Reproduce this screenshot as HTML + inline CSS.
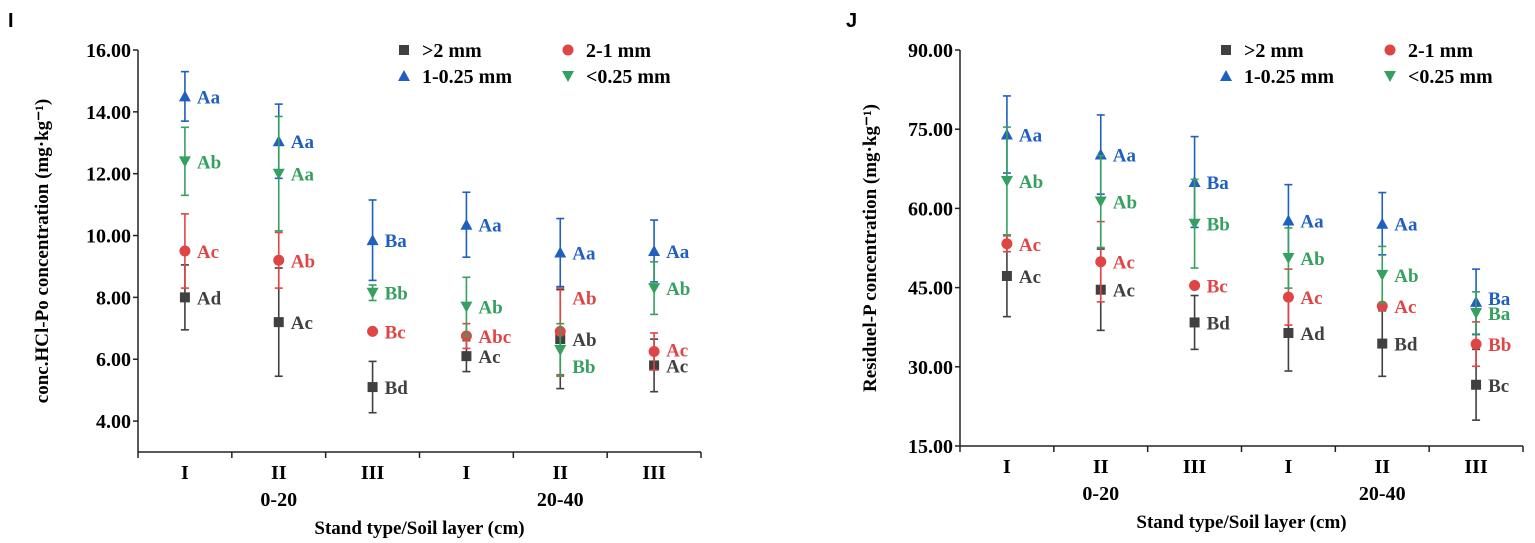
<!DOCTYPE html>
<html><head><meta charset="utf-8"><style>
html,body{margin:0;padding:0;background:#fff;}
svg{display:block;font-family:"Liberation Serif",serif;}
</style></head><body>
<svg id="c" width="1535" height="543"></svg>
<script>
const categories=["I","II","III","I","II","III"];
const groups=["0-20","20-40"];
const seriesNames=[">2 mm","2-1 mm","1-0.25 mm","<0.25 mm"];
// Panel I
const iTicks=["4.00","6.00","8.00","10.00","12.00","14.00","16.00"];
const iSq=[8.0,7.2,5.1,6.1,6.65,5.8];
const iSqErr=[1.05,1.75,0.83,0.5,1.6,0.85];
const iCi=[9.5,9.2,6.9,6.75,6.9,6.25];
const iCiErr=[1.2,0.9,0.05,0.4,1.4,0.6];
const iTr=[14.5,13.05,9.85,10.35,9.45,9.5];
const iTrErr=[0.8,1.2,1.3,1.05,1.1,1.0];
const iIt=[12.4,12.0,8.15,7.7,6.3,8.3];
const iItErr=[1.1,1.85,0.25,0.95,0.85,0.85];
const iSqLab=["Ad","Ac","Bd","Ac","Ab","Ac"];
const iCiLab=["Ac","Ab","Bc","Abc","Ab","Ac"];
const iTrLab=["Aa","Aa","Ba","Aa","Aa","Aa"];
const iItLab=["Ab","Aa","Bb","Ab","Bb","Ab"];
// Panel J
const jTicks=["15.00","30.00","45.00","60.00","75.00","90.00"];
const jSq=[47.2,44.6,38.4,36.4,34.4,26.6];
const jSqErr=[7.7,7.7,5.1,7.2,6.2,6.7];
const jCi=[53.3,49.9,45.4,43.2,41.5,34.3];
const jCiErr=[1.5,7.6,0.4,5.3,0.6,4.2];
const jTr=[74.0,70.2,65.0,57.7,57.1,42.3];
const jTrErr=[7.3,7.5,8.6,6.8,5.9,6.2];
const jIt=[65.2,61.3,57.1,50.6,47.4,40.2];
const jItErr=[10.2,8.7,8.4,5.7,5.4,4.0];
const jSqLab=["Ac","Ac","Bd","Ad","Bd","Bc"];
const jCiLab=["Ac","Ac","Bc","Ac","Ac","Bb"];
const jTrLab=["Aa","Aa","Ba","Aa","Aa","Ba"];
const jItLab=["Ab","Ab","Bb","Ab","Ab","Ba"];

const colors=["#404040","#e04545","#1f5fc0","#35a060"];
const NS="http://www.w3.org/2000/svg";
const svg=document.getElementById('c');
function mk(tag,attrs,parent,name){const e=document.createElementNS(NS,tag);for(const k in attrs)e.setAttribute(k,attrs[k]);


(parent||svg).appendChild(e);return e;}
function txt(s,x,y,attrs,parent,name){const e=mk('text',Object.assign({x:x,y:y},attrs),parent,name);e.textContent=s;return e;}
function marker(k,x,y,g,name){const c=colors[k];
 if(k===0)mk('rect',{x:x-5,y:y-5,width:10,height:10,fill:c},g,name);
 else if(k===1)mk('circle',{cx:x,cy:y,r:5.5,fill:c},g,name);
 else if(k===2)mk('polygon',{points:`${x},${y-6} ${x-6},${y+5} ${x+6},${y+5}`,fill:c},g,name);
 else mk('polygon',{points:`${x},${y+6} ${x-6},${y-5} ${x+6},${y-5}`,fill:c},g,name);}

function panel(p){
 const g=mk('g',{},svg,p.id+'-panel');
 const yv=v=>p.y0-(v-p.vmin)*(p.y0-p.y1)/(p.vmax-p.vmin);
 const step=(p.xr-p.xl)/categories.length;
 const xc=i=>p.xl+step*(i+0.5);
 txt(p.letter,p.lx,27,{'font-family':'Liberation Sans,sans-serif','font-weight':'bold','font-size':20},g,'panel-letter');
 mk('line',{x1:p.xl,y1:p.y1,x2:p.xl,y2:p.y0,stroke:'#222','stroke-width':1.5},g,'y-axis');
 mk('line',{x1:p.xl,y1:p.y0,x2:p.xr,y2:p.y0,stroke:'#222','stroke-width':1.5},g,'x-axis');
 p.ticks.forEach(t=>{const y=yv(parseFloat(t));
  mk('line',{x1:p.xl-5,y1:y,x2:p.xl,y2:y,stroke:'#222','stroke-width':1.5},g,'y-tick');
  txt(t,p.xl-7,y+7,{'text-anchor':'end','font-weight':'bold','font-size':20},g,'y-tick-label');});
 for(let i=0;i<=categories.length;i++){const x=p.xl+step*i;mk('line',{x1:x,y1:p.y0,x2:x,y2:p.y0+6,stroke:'#222','stroke-width':1.5},g,'x-tick');}
 categories.forEach((c,i)=>txt(c,xc(i),p.y0+27,{'text-anchor':'middle','font-weight':'bold','font-size':20},g,'x-category-label'));
 groups.forEach((s,j)=>txt(s,xc(j*3+1),p.y0+54,{'text-anchor':'middle','font-weight':'bold','font-size':20},g,'group-label'));
 txt('Stand type/Soil layer (cm)',(p.xl+p.xr)/2,p.y0+82,{'text-anchor':'middle','font-weight':'bold','font-size':19},g,'x-axis-title');
 const ty=(p.y0+p.y1)/2;
 txt(p.ytitle,p.xl-p.ytOff,ty,{'text-anchor':'middle','font-weight':'bold','font-size':19,transform:`rotate(-90 ${p.xl-p.ytOff} ${ty})`},g,'y-axis-title');
 const lg=mk('g',{},g,'legend');
 const lpos=[[p.legX,50],[p.legX+164,50],[p.legX,76],[p.legX+164,76]];
 seriesNames.forEach((n,k)=>{const[x,y]=lpos[k];marker(k,x,y,lg,'legend-marker');
  txt(n,x+18,y+7,{'font-weight':'bold','font-size':20},lg,'legend-entry');});
 const S=[[p.sq,p.sqE,p.sqL],[p.ci,p.ciE,p.ciL],[p.tr,p.trE,p.trL],[p.it,p.itE,p.itL]];
 S.forEach((s,k)=>{const sg=mk('g',{},g,'series-'+k);
  s[0].forEach((v,i)=>{const x=xc(i),y=yv(v),yt=yv(v+s[1][i]),yb=yv(v-s[1][i]);
   mk('line',{x1:x,y1:yt,x2:x,y2:yb,stroke:colors[k],'stroke-width':1.6},sg,'error-bar');
   mk('line',{x1:x-4,y1:yt,x2:x+4,y2:yt,stroke:colors[k],'stroke-width':1.6},sg,'error-cap');
   mk('line',{x1:x-4,y1:yb,x2:x+4,y2:yb,stroke:colors[k],'stroke-width':1.6},sg,'error-cap');
   marker(k,x,y,sg,'point');
   const nud=(p.nudge&&p.nudge[k]&&p.nudge[k][i])||0;
   txt(s[2][i],x+12,y+7+nud,{'font-weight':'bold','font-size':19,fill:colors[k]},sg,'significance-label');});});
}
panel({id:'i',letter:'I',lx:8,xl:138,xr:701,y0:452,y1:50,vmin:3,vmax:16,ticks:iTicks,ytitle:'conc.HCl-Po concentration (mg·kg⁻¹)',ytOff:90,legX:404,
 nudge:[[0,0,0,0,0,0],[0,0,0,0,-34,-2],[0,0,0,0,0,0],[0,0,0,0,16,0]],
 sq:iSq,sqE:iSqErr,sqL:iSqLab,ci:iCi,ciE:iCiErr,ciL:iCiLab,tr:iTr,trE:iTrErr,trL:iTrLab,it:iIt,itE:iItErr,itL:iItLab});
panel({id:'j',letter:'J',lx:846,xl:960,xr:1523,y0:446,y1:50,vmin:15,vmax:90,ticks:jTicks,ytitle:'Residuel-P concentration (mg·kg⁻¹)',ytOff:84,legX:1226,
 nudge:[[0,0,0,0,0,0],[0,0,0,0,0,0],[0,0,0,0,0,-4],[0,0,0,0,0,0]],
 sq:jSq,sqE:jSqErr,sqL:jSqLab,ci:jCi,ciE:jCiErr,ciL:jCiLab,tr:jTr,trE:jTrErr,trL:jTrLab,it:jIt,itE:jItErr,itL:jItLab});
</script>
</body></html>
